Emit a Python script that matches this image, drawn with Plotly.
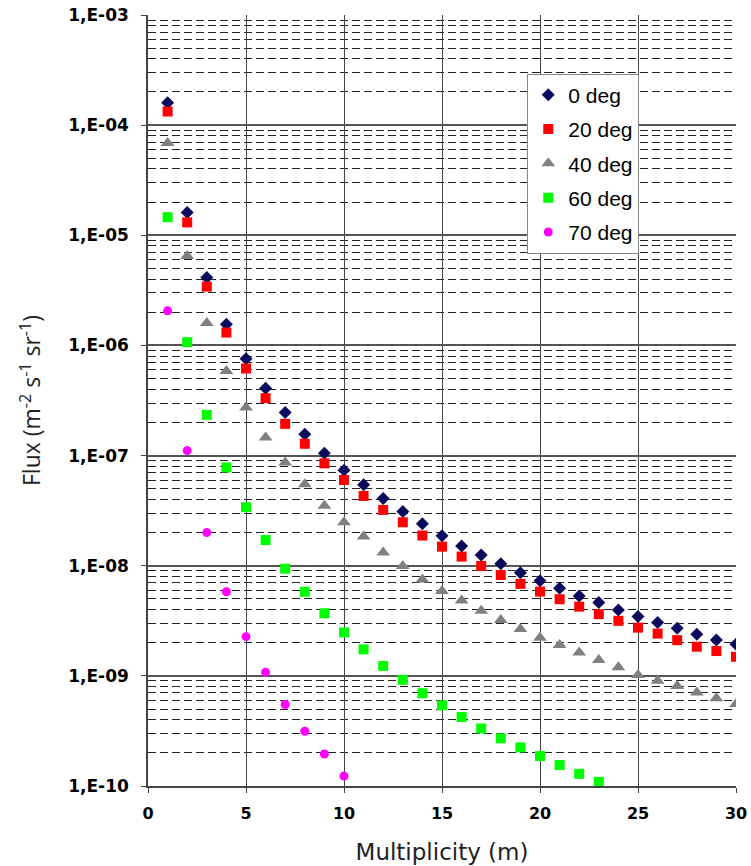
import plotly.graph_objects as go

m = list(range(1, 31))

flux_0 = [1.6e-4, 1.61e-5, 4.13e-6, 1.56e-6, 7.55e-7, 4.08e-7, 2.46e-7, 1.56e-7, 1.05e-7, 7.36e-8,
          5.42e-8, 4.07e-8, 3.1e-8, 2.4e-8, 1.87e-8, 1.51e-8, 1.25e-8, 1.04e-8, 8.65e-9, 7.32e-9,
          6.25e-9, 5.32e-9, 4.63e-9, 3.97e-9, 3.45e-9, 3.05e-9, 2.71e-9, 2.39e-9, 2.12e-9, 1.94e-9]
flux_20 = [1.33e-4, 1.31e-5, 3.42e-6, 1.31e-6, 6.17e-7, 3.32e-7, 1.94e-7, 1.28e-7, 8.5e-8, 6.0e-8,
           4.3e-8, 3.21e-8, 2.48e-8, 1.88e-8, 1.49e-8, 1.21e-8, 9.95e-9, 8.24e-9, 6.84e-9, 5.82e-9,
           4.96e-9, 4.25e-9, 3.63e-9, 3.16e-9, 2.74e-9, 2.42e-9, 2.11e-9, 1.84e-9, 1.68e-9, 1.49e-9]
flux_40 = [6.9e-5, 6.5e-6, 1.6e-6, 5.87e-7, 2.73e-7, 1.46e-7, 8.65e-8, 5.5e-8, 3.5e-8, 2.48e-8,
           1.84e-8, 1.32e-8, 9.96e-9, 7.5e-9, 5.9e-9, 4.82e-9, 3.91e-9, 3.22e-9, 2.67e-9, 2.22e-9,
           1.91e-9, 1.63e-9, 1.39e-9, 1.2e-9, 1.02e-9, 9.05e-10, 8.1e-10, 7.05e-10, 6.25e-10, 5.56e-10]
m_60 = list(range(1, 24))
flux_60 = [1.46e-5, 1.07e-6, 2.34e-7, 7.8e-8, 3.4e-8, 1.71e-8, 9.4e-9, 5.8e-9, 3.7e-9, 2.48e-9,
           1.74e-9, 1.23e-9, 9.2e-10, 6.95e-10, 5.4e-10, 4.23e-10, 3.33e-10, 2.71e-10, 2.24e-10, 1.87e-10,
           1.55e-10, 1.29e-10, 1.09e-10]
m_70 = list(range(1, 11))
flux_70 = [2.06e-6, 1.11e-7, 2.0e-8, 5.8e-9, 2.27e-9, 1.08e-9, 5.5e-10, 3.14e-10, 1.95e-10, 1.23e-10]

y_tickvals = [1e-3, 1e-4, 1e-5, 1e-6, 1e-7, 1e-8, 1e-9, 1e-10]
y_ticktext = ["1,E-03", "1,E-04", "1,E-05", "1,E-06", "1,E-07", "1,E-08", "1,E-09", "1,E-10"]
minor_vals = [k * d for d in [1e-10, 1e-9, 1e-8, 1e-7, 1e-6, 1e-5, 1e-4] for k in range(2, 10)]

series = [
    ("0 deg", m, flux_0, "diamond", "#0b0b5e", 10),
    ("20 deg", m, flux_20, "square", "#ff0000", 10),
    ("40 deg", m, flux_40, "triangle-up", "#808080", 12),
    ("60 deg", m_60, flux_60, "square", "#00ff00", 10),
    ("70 deg", m_70, flux_70, "circle", "#ff00ff", 9),
]

fig = go.Figure()
for i, (name, xs, ys, sym, col, sz) in enumerate(series):
    fig.add_trace(go.Scatter(x=xs, y=ys, mode="markers", name=name, legendgroup=f"g{i}",
                             marker=dict(symbol=sym, color=col, size=sz, line=dict(width=0))))

fig.update_layout(
    width=751, height=866,
    margin=dict(l=148, r=15, t=15, b=80),
    paper_bgcolor="white", plot_bgcolor="white",
    showlegend=True,
    legend=dict(x=0.645, y=0.924, xanchor="left", yanchor="top",
                bgcolor="white", bordercolor="#888888", borderwidth=1,
                font=dict(family="Liberation Sans, Arial", size=21, color="black"),
                tracegroupgap=4, itemwidth=30),
)
fig.update_xaxes(
    range=[0, 30], tickvals=[0, 5, 10, 15, 20, 25, 30], ticks="outside", ticklen=5,
    tickcolor="#444", showgrid=True, gridcolor="#444", gridwidth=1.3,
    showline=True, linecolor="#444", linewidth=1.5, zeroline=False, automargin=False,
    ticklabelstandoff=7,
    tickfont=dict(family="DejaVu Sans", size=16, color="black", weight="bold"),
    title=dict(text="Multiplicity (m)", font=dict(family="DejaVu Sans", size=23, color="#222"),
               standoff=22),
)
fig.update_yaxes(
    type="log", range=[-10, -3], tickvals=y_tickvals, ticktext=y_ticktext,
    ticks="outside", ticklen=5, tickcolor="#444", automargin=False,
    ticklabelstandoff=9,
    showgrid=True, gridcolor="#555", gridwidth=1.5,
    showline=True, linecolor="#444", linewidth=1.5, zeroline=False,
    tickfont=dict(family="DejaVu Sans", size=17, color="black", weight="bold"),
    minor=dict(tickvals=minor_vals, showgrid=True, gridcolor="#222", gridwidth=1,
               griddash="8px,4px", ticks=""),
    title=dict(text="Flux (m<sup>-2</sup> s<sup>-1</sup> sr<sup>-1</sup>)",
               font=dict(family="Open Sans", size=23, color="#222"), standoff=21),
)
fig.write_html("out.html")
